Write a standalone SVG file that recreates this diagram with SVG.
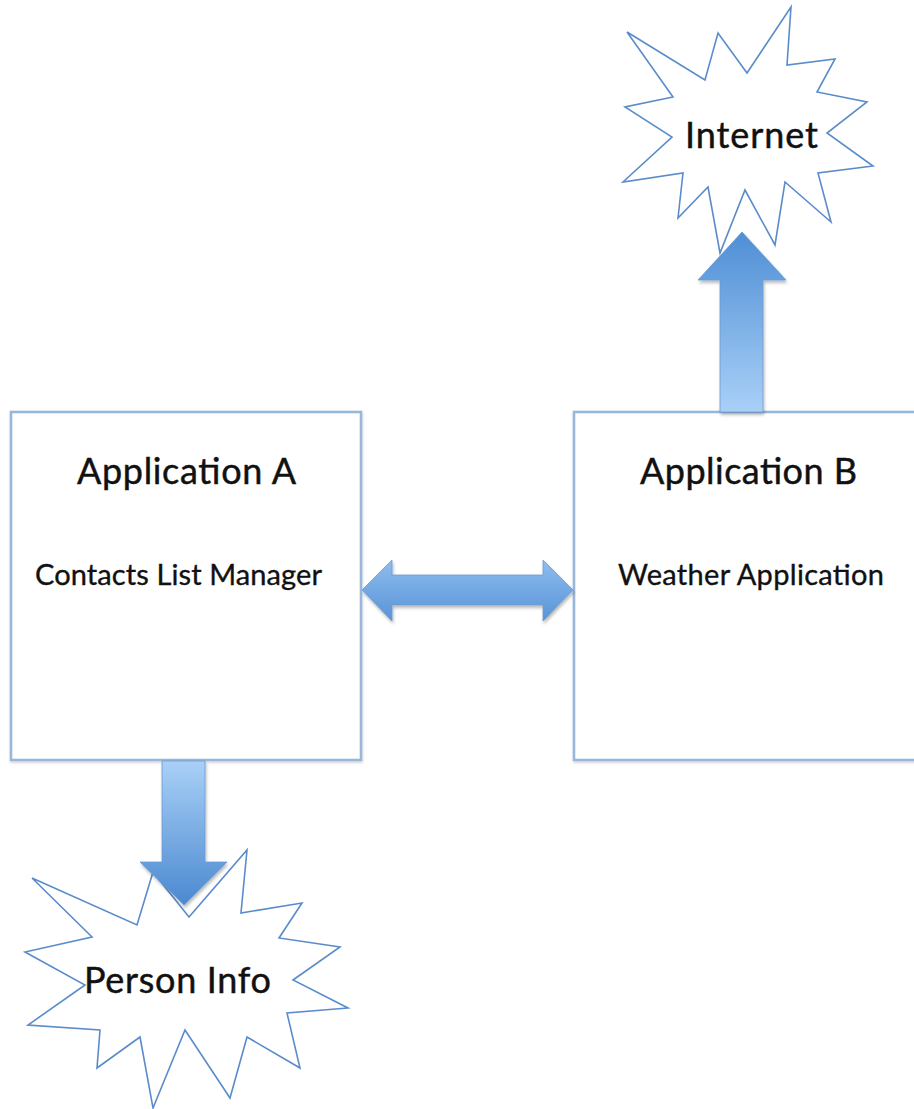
<svg xmlns="http://www.w3.org/2000/svg" width="914" height="1109" viewBox="0 0 914 1109">
  <defs>
    <style>
      .box { fill: #ffffff; stroke: #98b7da; stroke-width: 2.6; }
      .burst { fill: #ffffff; stroke: #5a8ccb; stroke-width: 1.6; stroke-linejoin: miter; }
      .title { font-family: "Lato", "Open Sans", sans-serif; font-size: 36px; fill: #111111; stroke: #111111; stroke-width: 0.45; text-anchor: middle; }
      .sub { font-family: "Lato", "Open Sans", sans-serif; font-size: 29px; fill: #111111; stroke: #111111; stroke-width: 0.35; text-anchor: middle; }
      .arrow { stroke: #6a9bd2; stroke-width: 0.8; stroke-linejoin: miter; filter: url(#shadow); }
    </style>
    <linearGradient id="gradUp" x1="0" y1="0" x2="0" y2="1">
      <stop offset="0" stop-color="#4f8ed5"/>
      <stop offset="1" stop-color="#a9d0f7"/>
    </linearGradient>
    <linearGradient id="gradDown" x1="0" y1="0" x2="0" y2="1">
      <stop offset="0" stop-color="#a9d0f7"/>
      <stop offset="1" stop-color="#4b89d0"/>
    </linearGradient>
    <linearGradient id="gradSide" x1="0" y1="0" x2="0" y2="1">
      <stop offset="0" stop-color="#8fbdee"/>
      <stop offset="0.5" stop-color="#72a8e3"/>
      <stop offset="1" stop-color="#5a94d6"/>
    </linearGradient>
    <filter id="shadow" x="-20%" y="-20%" width="140%" height="140%">
      <feDropShadow dx="1" dy="2.5" stdDeviation="1.8" flood-color="#000000" flood-opacity="0.28"/>
    </filter>
    <filter id="boxShadow" x="-5%" y="-5%" width="110%" height="110%">
      <feDropShadow dx="0.5" dy="1.5" stdDeviation="1.2" flood-color="#000000" flood-opacity="0.18"/>
    </filter>
  </defs>

  <rect x="0" y="0" width="914" height="1109" fill="#ffffff"/>

  <!-- Contacts list manager box -->
  <g id="app-a">
    <rect class="box" x="11" y="412" width="350" height="348" filter="url(#boxShadow)"/>
    <text class="title" x="186.5" y="484" textLength="219">Application A</text>
    <text class="sub" x="178.5" y="585" textLength="287">Contacts List Manager</text>
  </g>

  <!-- Weather application box (runs past the right edge) -->
  <g id="app-b">
    <rect class="box" x="574" y="412" width="346" height="348" filter="url(#boxShadow)"/>
    <text class="title" x="748.5" y="484" textLength="217">Application B</text>
    <text class="sub" x="751" y="585" textLength="266">Weather Application</text>
  </g>

  <!-- Internet burst -->
  <g id="internet">
    <polygon class="burst" points="627,32 705,80 718,33 747,73 791,7 787,65 835,59 817,92 867,102 827,133 873,166 818,173 831,222 785,182 775,245 745,190 720,253 708,187 678,218 683,173 623,182 672,137 625,107 673,97"/>
    <text class="title" x="751.5" y="148" textLength="133">Internet</text>
  </g>

  <!-- Person info burst -->
  <g id="person-info">
    <polygon class="burst" points="32,878 137,925 153,872 189,917 247,850 241,913 302,903 279,938 340,947 293,980 348,1008 287,1013 300,1068 247,1037 230,1098 185,1030 153,1108 140,1037 97,1068 100,1030 28,1025 85,985 25,952 92,937"/>
    <text class="title" x="177.5" y="993" textLength="187">Person Info</text>
  </g>

  <!-- Block arrows between the parts -->
  <g id="connectors">
    <path class="arrow" fill="url(#gradSide)" d="M362,590 L392,560 L392,575 L543,575 L543,560 L573,590 L543,621 L543,605 L392,605 L392,621 Z"/>
    <path class="arrow" fill="url(#gradUp)" d="M720,412 L720,280 L698,280 L742,232 L786,280 L763,280 L763,412 Z"/>
    <path class="arrow" fill="url(#gradDown)" d="M162,761 L205,761 L205,862 L227,862 L184,905 L140,862 L162,862 Z"/>
  </g>
</svg>
